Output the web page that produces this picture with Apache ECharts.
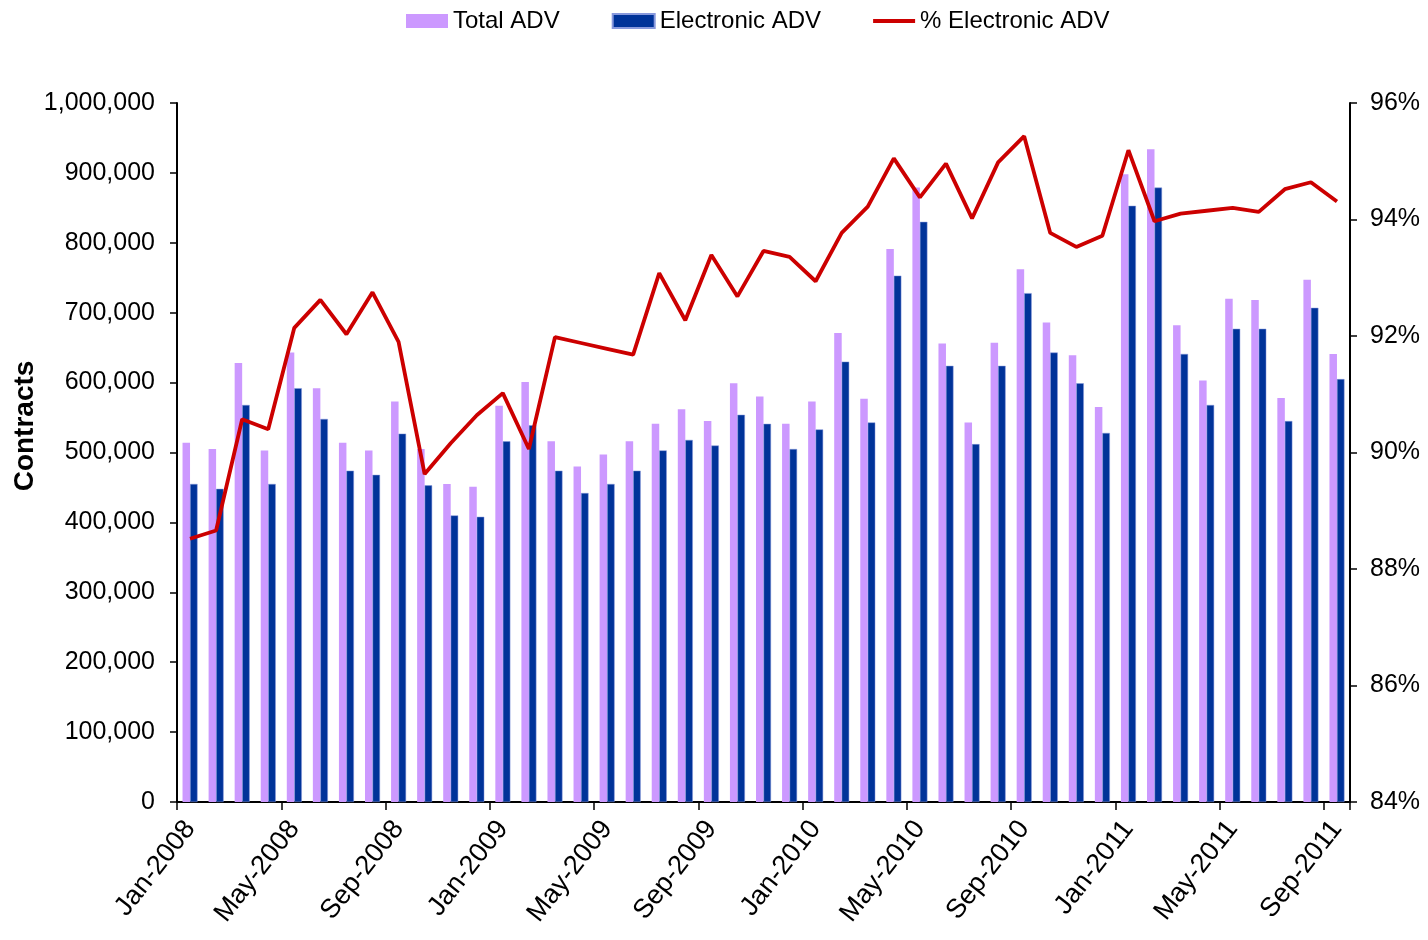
<!DOCTYPE html>
<html>
<head>
<meta charset="utf-8">
<script src="https://cdn.jsdelivr.net/npm/echarts@6/dist/echarts.min.js"></script>
<style>
html,body{margin:0;padding:0;background:#fff;}
#chart{width:1428px;height:940px;}
</style>
</head>
<body>
<div id="chart"></div>
<script>
const monthNames = ['Jan','Feb','Mar','Apr','May','Jun','Jul','Aug','Sep','Oct','Nov','Dec'];
const categories = [];
for (let y = 2008; y <= 2011; y++) {
  for (let m = 0; m < 12; m++) {
    if (y === 2011 && m > 8) break;
    categories.push(monthNames[m] + '-' + y);
  }
}
const totalADV = [
  514000, 505000, 628000, 503000, 643000, 592000, 514000, 503000, 573000, 505000, 455000, 451000,
  567000, 601000, 516000, 480000, 497000, 516000, 541000, 562000, 545000, 599000, 580000, 541000,
  573000, 671000, 577000, 791000, 879000, 656000, 543000, 657000, 762000, 686000, 639000, 565000,
  898000, 934000, 682000, 603000, 720000, 718000, 578000, 747000, 641000
];
const electronicADV = [
  455000, 448000, 568000, 455000, 592000, 548000, 474000, 468000, 527000, 453000, 410000, 408000,
  516000, 539000, 474000, 442000, 455000, 474000, 503000, 518000, 510000, 554000, 541000, 505000,
  533000, 630000, 543000, 753000, 830000, 624000, 512000, 624000, 728000, 643000, 599000, 528000,
  853000, 879000, 641000, 568000, 677000, 677000, 545000, 707000, 605000
];
const pctElectronic = [
  88.52, 88.66, 90.57, 90.40, 92.14, 92.62, 92.03, 92.75, 91.90, 89.63, 90.16, 90.64,
  91.02, 90.06, 91.98, 91.88, 91.78, 91.68, 93.08, 92.27, 93.39, 92.68, 93.46, 93.36,
  92.94, 93.77, 94.22, 95.05, 94.38, 94.96, 94.02, 94.98, 95.43, 93.77, 93.53, 93.72,
  95.19, 93.97, 94.10, 94.15, 94.20, 94.13, 94.52, 94.64, 94.31
];
const leftTicks = { min: 0, max: 1000000, interval: 100000 };
const rightTicks = { min: 84, max: 96, interval: 2 };

const FONT = 'Liberation Sans, Arial, sans-serif';
const chart = echarts.init(document.getElementById('chart'), null, { renderer: 'canvas' });
chart.setOption({
  animation: false,
  backgroundColor: '#ffffff',
  textStyle: { fontFamily: FONT, color: '#000' },
  legend: {
    left: 401, top: 4,
    itemWidth: 42, itemHeight: 14, itemGap: 52,
    textStyle: { fontSize: 24, color: '#000', fontFamily: FONT },
    data: [
      { name: 'Total ADV', icon: 'rect' },
      { name: 'Electronic ADV', icon: 'rect' },
      { name: '% Electronic ADV', icon: 'path://M0,0L42,0L42,4L0,4Z' }
    ]
  },
  graphic: [{
    type: 'text',
    x: 25, y: 426,
    rotation: Math.PI / 2,
    style: {
      text: 'Contracts',
      fontSize: 28, fontWeight: 'bold', fontFamily: FONT, fill: '#000',
      align: 'center', verticalAlign: 'middle'
    }
  }],
  grid: { left: 177, right: 78, top: 103, bottom: 138 },
  xAxis: {
    type: 'category',
    data: categories,
    boundaryGap: true,
    axisLine: { lineStyle: { color: '#000', width: 2 } },
    axisTick: { show: true, interval: 3, length: 8, lineStyle: { color: '#000', width: 1.5 } },
    axisLabel: { interval: 3, rotate: 52, fontSize: 27, color: '#000', margin: 22, fontFamily: FONT },
    splitLine: { show: false }
  },
  yAxis: [
    {
      type: 'value',
      min: leftTicks.min, max: leftTicks.max, interval: leftTicks.interval,
      axisLine: { show: true, lineStyle: { color: '#000', width: 2 } },
      axisTick: { show: true, inside: false, length: 7, lineStyle: { color: '#000', width: 1.5 } },
      axisLabel: {
        fontSize: 25, color: '#000', margin: 22, fontFamily: FONT,
        formatter: v => v.toLocaleString('en-US')
      },
      splitLine: { show: false }
    },
    {
      type: 'value',
      min: rightTicks.min, max: rightTicks.max, interval: rightTicks.interval,
      position: 'right',
      axisLine: { show: true, lineStyle: { color: '#000', width: 2 } },
      axisTick: { show: true, inside: false, length: 7, lineStyle: { color: '#000', width: 1.5 } },
      axisLabel: { fontSize: 25, color: '#000', margin: 20, fontFamily: FONT, formatter: '{value}%' },
      splitLine: { show: false }
    }
  ],
  series: [
    {
      name: 'Total ADV', type: 'bar', yAxisIndex: 0,
      data: totalADV, barWidth: 7.5, barGap: '0%',
      itemStyle: { color: '#CC99FF' }
    },
    {
      name: 'Electronic ADV', type: 'bar', yAxisIndex: 0,
      data: electronicADV, barWidth: 7.5, barGap: '0%',
      itemStyle: { color: '#003399', borderColor: '#8899dd', borderWidth: 0.5 }
    },
    {
      name: '% Electronic ADV', type: 'line', yAxisIndex: 1,
      data: pctElectronic, symbol: 'none', z: 5,
      lineStyle: { color: '#CC0000', width: 3.8 },
      itemStyle: { color: '#CC0000' }
    }
  ]
});
</script>
</body>
</html>
